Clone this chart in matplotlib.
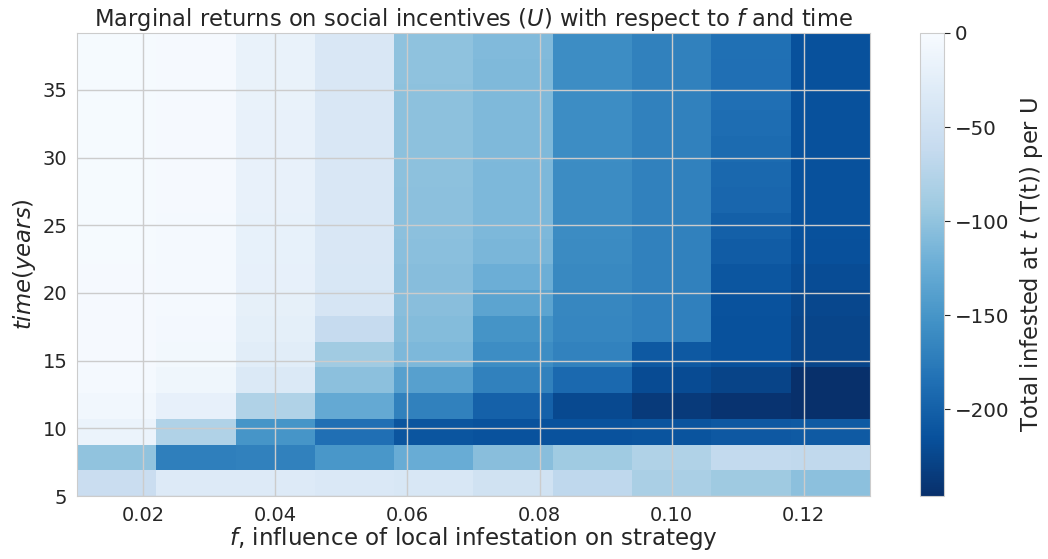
import numpy as np
import matplotlib
matplotlib.use("Agg")
import matplotlib.pyplot as plt

# grid of f values (column edges) and time (row edges, years)
f_edges = [0.010, 0.022, 0.034, 0.046, 0.058, 0.070, 0.082, 0.094, 0.106, 0.118, 0.130]
time_edges = [5.0, 6.9, 8.8, 10.7, 12.6, 14.5, 16.4, 18.3, 20.2, 22.1,
              24.0, 25.9, 27.8, 29.7, 31.6, 33.5, 35.4, 37.3, 39.2]

# marginal returns, one list per f column, from the earliest time row upwards
col_f1 = [-57, -100, -15, -8, -4, -3, -3, -3, -3, -2, -2, -2, -2, -2, -2, -2, -2, -2]
col_f2 = [-32, -172, -78, -21, -10, -6, -5, -4, -4, -4, -4, -3, -3, -3, -3, -3, -3, -3]
col_f3 = [-32, -170, -150, -78, -35, -27, -24, -22, -21, -20, -20, -19, -19, -19, -19, -18, -18, -18]
col_f4 = [-36, -148, -186, -128, -103, -90, -62, -42, -39, -38, -38, -38, -38, -38, -38, -38, -38, -38]
col_f5 = [-39, -125, -211, -170, -138, -112, -108, -105, -106, -104, -103, -103, -102, -102, -102, -102, -101, -101]
col_f6 = [-49, -105, -214, -199, -170, -158, -151, -134, -123, -114, -112, -112, -112, -111, -111, -111, -111, -110]
col_f7 = [-67, -91, -214, -222, -192, -169, -165, -164, -162, -160, -159, -159, -159, -158, -158, -158, -158, -158]
col_f8 = [-83, -78, -212, -236, -221, -207, -171, -171, -170, -170, -170, -170, -170, -170, -170, -170, -170, -170]
col_f9 = [-92, -64, -208, -243, -227, -215, -215, -214, -210, -204, -200, -195, -193, -190, -188, -186, -186, -185]
col_f10 = [-103, -66, -206, -246, -246, -226, -226, -224, -220, -216, -215, -215, -215, -215, -215, -215, -215, -215]

values = np.array([col_f1, col_f2, col_f3, col_f4, col_f5,
                   col_f6, col_f7, col_f8, col_f9, col_f10]).T

plt.rcParams["font.family"] = ["DejaVu Sans"]
plt.rcParams["text.color"] = "#262626"
plt.rcParams["axes.labelcolor"] = "#262626"
plt.rcParams["xtick.color"] = "#262626"
plt.rcParams["ytick.color"] = "#262626"

fig = plt.figure(figsize=(10.48, 5.59), dpi=100)
ax = fig.add_axes([0.0735, 0.1127, 0.7565, 0.8283])
mesh = ax.pcolormesh(f_edges, time_edges, values, cmap="Blues_r",
                     vmin=values.min(), vmax=0)

ax.set_xlim(f_edges[0], f_edges[-1])
ax.set_ylim(time_edges[0], time_edges[-1])
ax.set_xticks([0.02, 0.04, 0.06, 0.08, 0.10, 0.12])
ax.set_yticks([5, 10, 15, 20, 25, 30, 35])
ax.tick_params(labelsize=14, length=0, pad=7)
ax.set_axisbelow(False)
ax.grid(True, color="#cccccc", linewidth=1)
for s in ax.spines.values():
    s.set_color("#cccccc")

ax.set_title(r"Marginal returns on social incentives ($U$) with respect to $f$ and time",
             fontsize=16.3, pad=4)
ax.set_xlabel(r"$f$, influence of local infestation on strategy", fontsize=16.6, labelpad=0)
ax.set_ylabel(r"$time (years)$", fontsize=16.4, labelpad=3)

cax = fig.add_axes([0.878, 0.1127, 0.023, 0.8283])
cb = fig.colorbar(mesh, cax=cax)
cb.set_ticks([0, -50, -100, -150, -200])
cb.ax.tick_params(labelsize=14.3, length=4, color="#262626", width=0.8)
cb.outline.set_edgecolor("#cccccc")
cb.set_label(r"Total infested at $t$ (T(t)) per U", fontsize=16.3, labelpad=6)

fig.savefig("out.png", dpi=100)
